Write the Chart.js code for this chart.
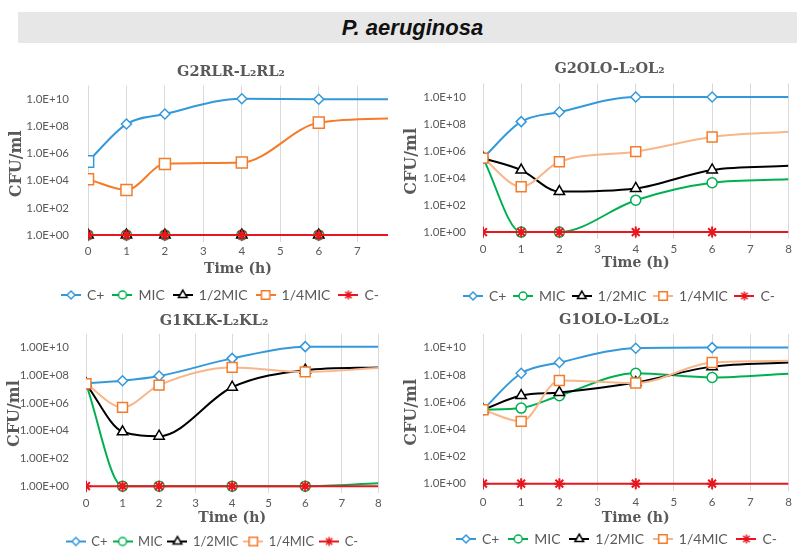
<!DOCTYPE html>
<html>
<head>
<meta charset="utf-8">
<script src="https://cdn.jsdelivr.net/npm/chart.js"></script>
<style>
  html, body { margin: 0; padding: 0; background: #fff; overflow: hidden; }
  body { width: 797px; height: 549px; position: relative; }
  #banner {
    position: absolute; left: 18px; top: 12px; width: 779px; height: 31px;
    background: #e7e7e7; color: #111; box-sizing: border-box; padding-left: 10px;
    font: italic bold 22px "Liberation Sans", Arial, sans-serif; line-height: 31px; text-align: center;
  }
  canvas { position: absolute; }
</style>
</head>
<body>
<div id="banner">P. aeruginosa</div>
<canvas id="c1"></canvas>
<canvas id="c2"></canvas>
<canvas id="c3"></canvas>
<canvas id="c4"></canvas>
<script>
// sampling times (h); the last one only carries the line to the edge
const times = [0, 1, 2, 4, 6, 8];
const seriesNames = ['C+', 'MIC', '1/2MIC', '1/4MIC', 'C-'];
const yTickValues = [1, 1e2, 1e4, 1e6, 1e8, 1e10];
const xTicksShort = [0, 1, 2, 3, 4, 5, 6, 7];
const xTicksFull = [0, 1, 2, 3, 4, 5, 6, 7, 8];

// G2RLR-L2RL2
const cPlus1   = [2.6e5, 1.5e8, 8.3e8, 1.1e10, 1.0e10, 1.0e10];
const mic1     = [1, 1, 1, 1, 1, 1];
const half1    = [1, 1, 1, 1, 1, 1];
const quarter1 = [1.3e4, 2.1e3, 1.7e5, 2.2e5, 1.9e8, 4.0e8];
const cMinus1  = [1, 1, 1, 1, 1, 1];

// G2OLO-L2OL2
const cPlus2   = [3.0e5, 1.5e8, 7.7e8, 1.0e10, 1.0e10, 1.0e10];
const mic2     = [3.0e5, 1, 1, 2.3e2, 4.5e3, 8.0e3];
const half2    = [3.0e5, 3.9e4, 1.0e3, 1.7e3, 4.0e4, 8.0e4];
const quarter2 = [3.0e5, 2.3e3, 1.6e5, 9.0e5, 1.1e7, 2.7e7];
const cMinus2  = [1, 1, 1, 1, 1, 1];

// G1KLK-L2KL2
const cPlus3   = [2.7e7, 4.1e7, 9.0e7, 1.7e9, 1.2e10, 1.2e10];
const mic3     = [2.5e7, 1, 1, 1, 1, 1.6];
const half3    = [2.5e7, 8.5e3, 4.1e3, 1.4e7, 2.4e8, 3.8e8];
const quarter3 = [2.5e7, 4.9e5, 2.0e7, 3.8e8, 1.8e8, 3.4e8];
const cMinus3  = [1, 1, 1, 1, 1, 1];

// G1OLO-L2OL2
const cPlus4   = [2.7e5, 1.3e8, 8.0e8, 9.0e9, 1.0e10, 1.0e10];
const mic4     = [2.7e5, 3.6e5, 2.9e6, 1.3e8, 6.4e7, 1.2e8];
const half4    = [2.7e5, 3.0e6, 5.0e6, 2.7e7, 4.0e8, 8.0e8];
const quarter4 = [2.7e5, 3.8e4, 3.8e7, 2.5e7, 8.0e8, 1.07e9];
const cMinus4  = [1, 1, 1, 1, 1, 1];

const blue = '#3399db', green = '#00b050', black = '#000000';
const orange = '#f47b2a', paleOrange = '#f8b68a', red = '#e8161e';
const textGray = '#595959';

const markStyles = [
  { color: blue,   line: blue,       style: 'rectRot',  r: 5,   lr: 4 },
  { color: green,  line: green,      style: 'circle',   r: 5,   lr: 4 },
  { color: black,  line: black,      style: 'triangle', r: 6,   lr: 5 },
  { color: orange, line: paleOrange, style: 'rect',     r: 7,   lr: 6 },
  { color: red,    line: red,        style: 'star',     r: 5.5, lr: 4.5 }
];

// where each panel's pieces sit on the page (px)
const layouts = {
  c1: { x: 0,   y: 50,  w: 400, left: 88,  right: 388,   top: 85.7,  bottom: 242.1,
        title: 72,    yTitle: 17,  yTick: 77,  xTick: 251.7, xTitle: 269,   legend: 295,
        titleX: 231,   legendX: 220.5, gap: 9,    legendSize: 14 },
  c2: { x: 400, y: 50,  w: 397, left: 483, right: 790.3, top: 83.5,  bottom: 238.75,
        title: 69,    yTitle: 412, yTick: 474, xTick: 249,   xTitle: 263,   legend: 295.6,
        titleX: 609.5, legendX: 619.5, gap: 7.5,  legendSize: 14 },
  c3: { x: 0,   y: 305, w: 400, left: 86,  right: 378.3, top: 333.9, bottom: 492.9,
        title: 321.7, yTitle: 15,  yTick: 77,  xTick: 502.7, xTitle: 518,   legend: 541,
        titleX: 214,   legendX: 212.5, gap: 6,    legendSize: 13 },
  c4: { x: 400, y: 305, w: 397, left: 483, right: 790.3, top: 334,   bottom: 491.1,
        title: 320.7, yTitle: 412, yTick: 474, xTick: 502.7, xTitle: 518.3, legend: 539.3,
        titleX: 614,   legendX: 617,   gap: 9.75, legendSize: 14 }
};

const titleSize = 14.5, yTitleSize = 16, xTitleSize = 14, tickSize = 11.5;

// move the title and legend boxes sideways so they sit where the reference has them
const centerBoxes = {
  id: 'centerBoxes',
  afterLayout(chart, args, o) {
    [[chart.titleBlock, o.titleX], [chart.legend, o.legendX]].forEach(([box, cx]) => {
      if (!box) return;
      const dx = cx - (box.left + box.right) / 2;
      box.left += dx;
      box.right += dx;
    });
  }
};

function legendIcon(st, lineColor) {
  const c = document.createElement('canvas');
  c.width = 20; c.height = 14;
  const g = c.getContext('2d');
  g.strokeStyle = lineColor; g.lineWidth = 2;
  g.beginPath(); g.moveTo(0, 7); g.lineTo(20, 7); g.stroke();
  g.fillStyle = '#fff'; g.strokeStyle = st.color; g.lineWidth = 1.5;
  Chart.helpers.drawPoint(g, { pointStyle: st.style, radius: st.lr, borderWidth: 1.5, rotation: 0 }, 10, 7);
  return c;
}

function makeDatasets(values, opts) {
  return values.map((vals, k) => {
    const st = markStyles[k];
    const lineColor = (k === 3 && opts.solidOrange) ? orange : st.line;
    let radius = times.map((t, i) => i === times.length - 1 ? 0 : st.r);
    let styles = times.map(() => st.style);
    if (k === 3 && opts.bigSquares) radius = radius.map(r => r ? 7.8 : 0);
    if (k === 0 && opts.firstSquare) { styles[0] = 'rect'; radius[0] = 8; }
    return {
      label: seriesNames[k],
      data: times.map((t, i) => ({ x: t, y: vals[i] })),
      borderColor: lineColor,
      borderWidth: 2,
      pointStyle: styles,
      pointRadius: radius,
      pointBorderColor: st.color,
      pointBackgroundColor: '#fff',
      pointBorderWidth: k === 4 ? 2 : 1.5,
      cubicInterpolationMode: 'monotone',
      order: 4 - k,
      icon: legendIcon(st, lineColor)
    };
  });
}

function makeChart(id, name, values, opts) {
  const lay = layouts[id];
  const legendSize = lay.legendSize;
  const lhTitle = titleSize * 1.2, lhY = yTitleSize * 1.2, lhX = xTitleSize * 1.2, lhTick = tickSize * 1.2;
  const h = lay.legend - lay.y + 10 + legendSize / 2;
  const R = lay.x + lay.w - lay.right;
  const legendTop = h - (legendSize + lay.gap + 10);
  const chartTop = lay.top - lay.y, chartBottom = lay.bottom - lay.y;
  const titleMid = lay.title - lay.y;

  const canvas = document.getElementById(id);
  canvas.width = lay.w; canvas.height = Math.round(h);
  canvas.style.left = lay.x + 'px'; canvas.style.top = lay.y + 'px';

  return new Chart(canvas, {
    type: 'line',
    data: { datasets: makeDatasets(values, opts) },
    plugins: [centerBoxes],
    options: {
      responsive: false,
      animation: false,
      layout: { padding: { left: 0, right: R, top: 0, bottom: 0 } },
      plugins: {
        centerBoxes: { titleX: lay.titleX - lay.x, legendX: lay.legendX - lay.x },
        title: {
          display: true, text: name, color: textGray,
          font: { family: '"DejaVu Serif", serif', size: titleSize, weight: 'bold' },
          padding: { top: titleMid - lhTitle / 2, bottom: chartTop - titleMid - lhTitle / 2 }
        },
        legend: {
          position: 'bottom',
          labels: {
            usePointStyle: true, pointStyleWidth: 18, padding: lay.gap, color: textGray,
            font: { family: 'Lato, sans-serif', size: legendSize },
            generateLabels: (chart) => chart.data.datasets.map((ds, i) => ({
              text: ds.label, pointStyle: ds.icon, fillStyle: ds.borderColor,
              strokeStyle: ds.borderColor, lineWidth: 0, fontColor: textGray,
              hidden: false, datasetIndex: i
            }))
          }
        },
        tooltip: { enabled: false }
      },
      scales: {
        x: {
          type: 'linear', min: 0, max: opts.xMax,
          afterBuildTicks: (s) => { s.ticks = opts.xTicks.map(v => ({ value: v })); },
          afterFit: (s) => { s.height = legendTop - chartBottom; },
          grid: { color: '#d9d9d9', drawTicks: false },
          border: { display: false },
          ticks: {
            color: textGray, padding: lay.xTick - lay.bottom - lhTick / 2,
            font: { family: 'Lato, sans-serif', size: tickSize }
          },
          title: {
            display: true, text: 'Time (h)', color: textGray,
            font: { family: '"DejaVu Serif", serif', size: xTitleSize, weight: 'bold' },
            padding: { top: 0, bottom: legendTop - lhX / 2 - (lay.xTitle - lay.y) }
          }
        },
        y: {
          type: 'logarithmic', min: Math.pow(10, -0.5), max: 1e11,
          afterBuildTicks: (s) => { s.ticks = yTickValues.map(v => ({ value: v })); },
          afterFit: (s) => { s.width = lay.left - lay.x; },
          grid: { display: false },
          border: { display: false },
          ticks: {
            color: textGray, padding: lay.left - lay.yTick,
            font: { family: 'Lato, sans-serif', size: tickSize },
            callback: (v) => opts.prefix + String(Math.round(Math.log10(v))).padStart(2, '0')
          },
          title: {
            display: true, text: 'CFU/ml', color: textGray,
            font: { family: '"DejaVu Serif", serif', size: yTitleSize, weight: 'bold' },
            padding: { top: lay.yTitle - lay.x - lhY / 2, bottom: 0 }
          }
        }
      }
    }
  });
}

makeChart('c1', 'G2RLR-L\u2082RL\u2082', [cPlus1, mic1, half1, quarter1, cMinus1],
  { xMax: 7.8, xTicks: xTicksShort, prefix: '1.0E+', solidOrange: true, bigSquares: true, firstSquare: true });
makeChart('c2', 'G2OLO-L\u2082OL\u2082', [cPlus2, mic2, half2, quarter2, cMinus2],
  { xMax: 8, xTicks: xTicksFull, prefix: '1.0E+' });
makeChart('c3', 'G1KLK-L\u2082KL\u2082', [cPlus3, mic3, half3, quarter3, cMinus3],
  { xMax: 8, xTicks: xTicksFull, prefix: '1.00E+' });
makeChart('c4', 'G1OLO-L\u2082OL\u2082', [cPlus4, mic4, half4, quarter4, cMinus4],
  { xMax: 8, xTicks: xTicksFull, prefix: '1.0E+' });
</script>
</body>
</html>
